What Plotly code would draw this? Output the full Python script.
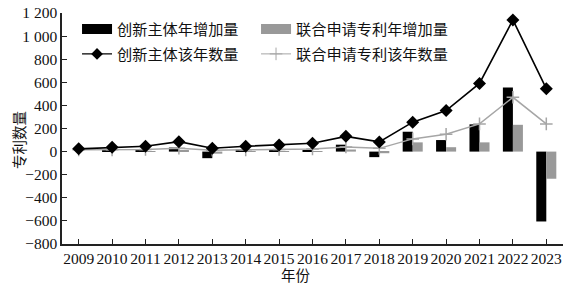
import plotly.graph_objects as go

years = [2009, 2010, 2011, 2012, 2013, 2014, 2015, 2016, 2017, 2018, 2019, 2020, 2021, 2022, 2023]
innov_inc = [None, 12, 10, 35, -57, 17, 11, 13, 60, -48, 172, 100, 236, 555, -605]
joint_inc = [None, 0, 3, 12, -18, 3, 3, 4, 18, -14, 80, 38, 80, 232, -235]
innov_count = [24, 37, 46, 86, 29, 46, 57, 72, 132, 84, 255, 355, 590, 1140, 545]
joint_count = [15, 15, 18, 30, 12, 15, 18, 22, 40, 28, 110, 150, 240, 470, 240]

names = ["创新主体年增加量", "联合申请专利年增加量", "创新主体该年数量", "联合申请专利该年数量"]
y_ticks = [-800, -600, -400, -200, 0, 200, 400, 600, 800, 1000, 1200]

BLACK = "#000000"
GRAY = "#999999"
LGRAY = "#a6a6a6"
CJK = "Noto Sans CJK SC"
SERIF = "Liberation Serif"

fig = go.Figure()
fig.add_trace(go.Bar(x=years, y=innov_inc, marker=dict(color=BLACK, line=dict(width=0)),
                     showlegend=False, name=names[0]))
fig.add_trace(go.Bar(x=years, y=joint_inc, marker=dict(color=GRAY, line=dict(width=0)),
                     showlegend=False, name=names[1]))
fig.add_trace(go.Scatter(x=years, y=joint_count, mode="lines+markers",
                         line=dict(color=LGRAY, width=1.5),
                         marker=dict(symbol="cross-thin-open", size=9, line=dict(color=LGRAY, width=1.5)),
                         showlegend=False, name=names[3]))
fig.add_trace(go.Scatter(x=years, y=innov_count, mode="lines+markers",
                         line=dict(color=BLACK, width=1.6),
                         marker=dict(symbol="diamond", size=10, color=BLACK),
                         showlegend=False, name=names[2]))

# legend entries (one legend per entry so each can be placed like the reference)
fig.add_trace(go.Scatter(x=[None], y=[None], mode="lines", line=dict(color=BLACK, width=11),
                         name=names[0], legend="legend"))
fig.add_trace(go.Scatter(x=[None], y=[None], mode="lines", line=dict(color=GRAY, width=11),
                         name=names[1], legend="legend2"))
fig.add_trace(go.Scatter(x=[None], y=[None], mode="lines+markers", line=dict(color=BLACK, width=1.2),
                         marker=dict(symbol="diamond", size=9, color=BLACK),
                         name=names[2], legend="legend3"))
fig.add_trace(go.Scatter(x=[None], y=[None], mode="lines+markers", line=dict(color=LGRAY, width=1),
                         marker=dict(symbol="cross-thin-open", size=9, line=dict(color=LGRAY, width=1)),
                         name=names[3], legend="legend4"))

legend_common = dict(orientation="h", xanchor="left", yanchor="middle",
                     font=dict(family=CJK, size=15.2, color="#111"),
                     bgcolor="rgba(0,0,0,0)", itemwidth=30)
col1 = 0.030
col2 = 0.030 + 179 / 501
row1 = (244 - 29) / 231
row2 = (244 - 54) / 231

fig.update_layout(
    width=564, height=285,
    margin=dict(l=62, r=1, t=13, b=41),
    paper_bgcolor="white", plot_bgcolor="white",
    barmode="group", bargap=0.4, bargroupgap=0,
    legend=dict(x=col1, y=row1, **legend_common),
    legend2=dict(x=col2, y=row1, **legend_common),
    legend3=dict(x=col1, y=row2, **legend_common),
    legend4=dict(x=col2, y=row2, **legend_common),
    xaxis=dict(range=[2008.5, 2023.5], tickmode="array", tickvals=years,
               ticktext=[str(y) for y in years],
               showline=True, linecolor="#222", linewidth=1.5,
               ticks="inside", ticklen=5, tickcolor="#222", tickwidth=1.2,
               showgrid=False, zeroline=False,
               tickfont=dict(family=SERIF, size=15.5, color="#111")),
    yaxis=dict(range=[-800, 1200], tickmode="array", tickvals=y_ticks,
               ticktext=[f"{v:,}".replace(",", " ").replace("-", "−") for v in y_ticks],
               showline=True, linecolor="#222", linewidth=1.5,
               ticks="inside", ticklen=5, tickcolor="#222", tickwidth=1.2,
               showgrid=False, zeroline=False,
               tickfont=dict(family=SERIF, size=15.5, color="#111")),
    annotations=[
        dict(text="专利数量", xref="paper", yref="paper", x=(18 - 62) / 501, y=(244 - 140) / 231,
             textangle=-90, showarrow=False, xanchor="center", yanchor="middle",
             font=dict(family=CJK, size=14.5, color="#111")),
        dict(text="年份", xref="paper", yref="paper", x=(296 - 62) / 501, y=(244 - 274) / 231,
             showarrow=False, xanchor="center", yanchor="middle",
             font=dict(family=CJK, size=14.5, color="#111")),
    ],
)

fig.write_html("out.html")
